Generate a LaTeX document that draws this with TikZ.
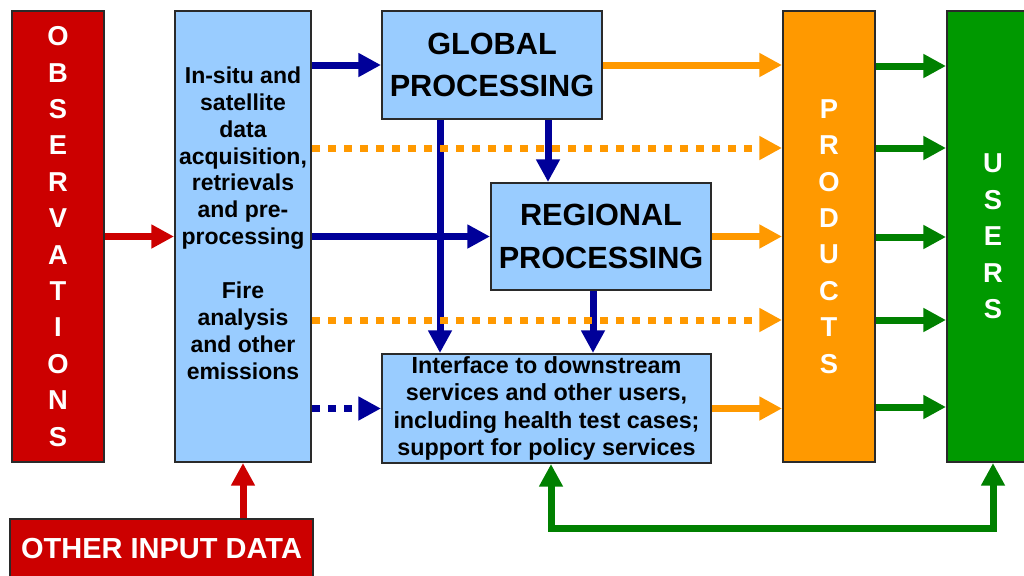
\documentclass[tikz,border=0pt]{standalone}
\usepackage{fontspec}
\setmainfont{Liberation Sans}
\usetikzlibrary{arrows.meta}
\definecolor{obsred}{HTML}{CC0000}
\definecolor{lblue}{HTML}{99CCFF}
\definecolor{porange}{HTML}{FF9900}
\definecolor{ugreen}{HTML}{009900}
\definecolor{agreen}{HTML}{008000}
\definecolor{dblue}{HTML}{000099}
\definecolor{bord}{HTML}{2A2A2A}
\tikzset{
  box/.style={draw=bord, line width=1.5pt, inner sep=0pt, align=center, font=\bfseries},
  redbox/.style={box, fill=obsred, text=white},
  bluebox/.style={box, fill=lblue, text=black},
  vlet/.style={font=\fontsize{20.5pt}{27.3pt}\selectfont\bfseries, align=center, text=white, inner sep=0pt},
  tipA/.style={-{Triangle[length=17pt,width=17pt]}},
  conn/.style={line width=5.25pt, tipA},
  bluearrow/.style={conn, draw=dblue},
  bluedots/.style={conn, draw=dblue, dash pattern=on 6pt off 6pt},
  orangearrow/.style={conn, draw=porange},
  orangedots/.style={conn, draw=porange, dash pattern=on 6pt off 6pt},
  greenarrow/.style={conn, draw=agreen},
  redarrow/.style={conn, draw=obsred},
}
\begin{document}
\begin{tikzpicture}[x=0.75pt,y=-0.75pt]
\useasboundingbox (0,0) rectangle (1024,575);
\clip (0,0) rectangle (1024,575);
% boxes
\node[redbox, minimum width=69pt, minimum height=338.25pt] (obs) at (58,236.5) {};
\node[vlet] (obstext) at (obs.center) {O\\B\\S\\E\\R\\V\\A\\T\\I\\O\\N\\S};
\node[bluebox, minimum width=102pt, minimum height=338.25pt,
      font=\fontsize{17.25pt}{20.2pt}\selectfont\bfseries] (left) at (243,236.5)
  {In-situ and\\satellite\\data\\acquisition,\\retrievals\\and pre-\\processing\\~\\Fire\\analysis\\and other\\emissions\\~};
\node[bluebox, minimum width=165pt, minimum height=81pt,
      font=\fontsize{23pt}{32pt}\selectfont\bfseries] (global) at (492,65) {GLOBAL\\PROCESSING};
\node[bluebox, minimum width=165pt, minimum height=80.25pt,
      font=\fontsize{23pt}{32pt}\selectfont\bfseries] (regional) at (601,236.5) {REGIONAL\\PROCESSING};
\node[bluebox, minimum width=246.75pt, minimum height=81.75pt,
      font=\fontsize{17.5pt}{20.4pt}\selectfont\bfseries] (interface) at (546.5,408.5)
  {Interface to downstream\\services and other users,\\including health test cases;\\support for policy services};
\node[box, fill=porange, minimum width=69pt, minimum height=338.25pt] (products) at (829,236.5) {};
\node[vlet] (prodtext) at (products.center) {P\\R\\O\\D\\U\\C\\T\\S};
\node[box, fill=ugreen, minimum width=69pt, minimum height=338.25pt] (users) at (993,236.5) {};
\node[vlet] (usertext) at (users.center) {U\\S\\E\\R\\S};
\node[redbox, minimum width=227.25pt, minimum height=45pt,
      font=\fontsize{21.75pt}{26pt}\selectfont\bfseries] (other) at (161.5,549) {OTHER INPUT DATA};
% red inputs
\draw[redarrow] (obs.east |- left.west) -- (left.west);
\draw[redarrow] (left.south |- other.north) -- (left.south);
% blue connectors
\draw[bluearrow] (global.south -| 440,0) -- (interface.north -| 440,0);
\draw[bluearrow] (global.south -| 548,0) -- (regional.north -| 548,0);
\draw[bluearrow] (regional.south -| 593,0) -- (interface.north -| 593,0);
\draw[bluearrow] (left.east |- global.west) -- (global.west);
\draw[bluearrow] (left.east |- regional.west) -- (regional.west);
\draw[bluedots] (left.east |- interface.west) -- (interface.west);
% orange connectors
\draw[orangedots] (left.east |- 0,148) -- (products.west |- 0,148);
\draw[orangedots] (left.east |- 0,320) -- (products.west |- 0,320);
\draw[orangearrow] (global.east) -- (products.west |- global.east);
\draw[orangearrow] (regional.east) -- (products.west |- regional.east);
\draw[orangearrow] (interface.east) -- (products.west |- interface.east);
% green connectors
\foreach \yy in {66,148,237,320,407}{
  \draw[greenarrow] (products.east |- 0,\yy) -- (users.west |- 0,\yy);
}
\draw[line width=5.25pt, draw=agreen, line join=miter,
      {Triangle[length=17pt,width=17pt]}-{Triangle[length=17pt,width=17pt]}]
  (interface.south -| 551,0) |- (users.south |- 0,528) -- (users.south);
\end{tikzpicture}
\end{document}
